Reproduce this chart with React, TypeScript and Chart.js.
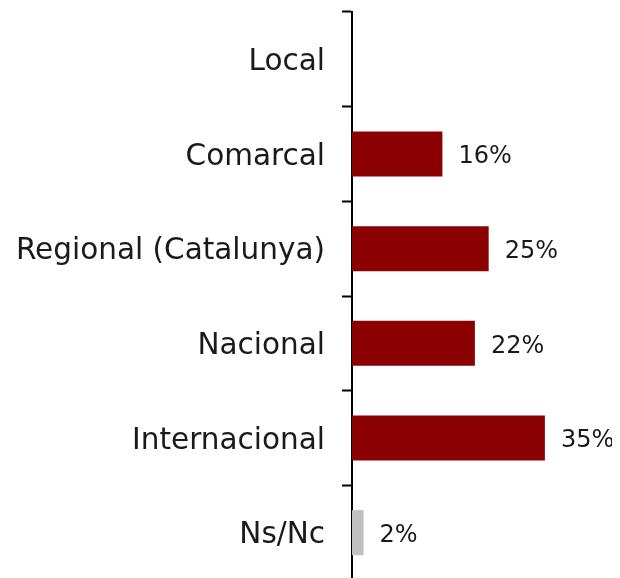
import React, { useEffect, useRef } from "react";
import { Chart, registerables } from "chart.js";

Chart.register(...registerables);

const categories = ["Local", "Comarcal", "Regional (Catalunya)", "Nacional", "Internacional", "Ns/Nc"];
const values: (number | null)[] = [null, 16.4, 24.8, 22.3, 35.0, 2.1];
const valueLabels = ["", "16%", "25%", "22%", "35%", "2%"];
const barColors = ["#8B0000", "#8B0000", "#8B0000", "#8B0000", "#8B0000", "#C0C0C0"];
const xMax = 45;

const FONT = "'DejaVu Sans', sans-serif";

const valueLabelPlugin = {
  id: "valueLabels",
  afterDatasetsDraw(chart: any) {
    const ctx = chart.ctx;
    const meta = chart.getDatasetMeta(0);
    ctx.save();
    ctx.font = `24px ${FONT}`;
    ctx.fillStyle = "#1a1a1a";
    ctx.textAlign = "left";
    ctx.textBaseline = "middle";
    meta.data.forEach((bar: any, i: number) => {
      const label = valueLabels[i];
      if (!label || values[i] == null) return;
      ctx.fillText(label, bar.x + 16, bar.y + 3);
    });
    ctx.restore();
  },
};

export default function App() {
  const ref = useRef<HTMLCanvasElement | null>(null);
  useEffect(() => {
    if (!ref.current) return;
    const chart = new Chart(ref.current, {
      type: "bar",
      data: {
        labels: categories,
        datasets: [
          {
            data: values,
            backgroundColor: barColors,
            borderWidth: 0,
            categoryPercentage: 1,
            barPercentage: 0.476,
          },
        ],
      },
      options: {
        indexAxis: "y",
        animation: false,
        responsive: false,
        maintainAspectRatio: false,
        layout: { padding: { top: 4, bottom: 8, right: 12, left: 0 } },
        plugins: {
          legend: { display: false },
          tooltip: { enabled: false },
          title: { display: false },
        },
        scales: {
          x: {
            display: false,
            min: 0,
            max: xMax,
          },
          y: {
            offset: true,
            grid: {
              offset: true,
              drawOnChartArea: false,
              drawTicks: true,
              tickLength: 10,
              tickWidth: 2,
              color: "#000000",
            },
            border: { display: true, color: "#000000", width: 2 },
            ticks: {
              color: "#1a1a1a",
              padding: 17,
              labelOffset: 3,
              font: { family: FONT, size: 29.5 },
            },
            afterFit(scale: any) {
              scale.width = 344;
              scale.paddingTop = 0;
              scale.paddingBottom = 0;
            },
          },
        },
      },
      plugins: [valueLabelPlugin],
    });
    return () => chart.destroy();
  }, []);
  return (
    <div style={{ width: 604, height: 570, overflow: "hidden" }}>
      <canvas ref={ref} width={604} height={580} style={{ display: "block" }} />
    </div>
  );
}
